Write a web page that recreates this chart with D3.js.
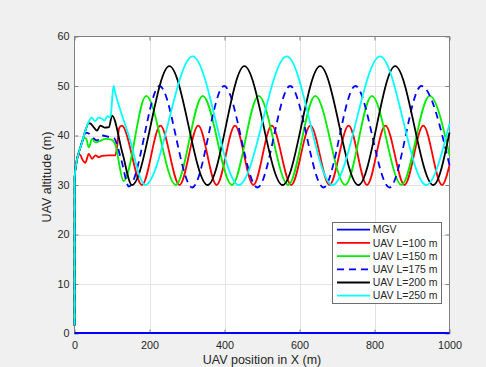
<!DOCTYPE html>
<html>
<head>
<meta charset="utf-8">
<script src="https://cdn.jsdelivr.net/npm/d3@7"></script>
<style>
  html, body { margin: 0; padding: 0; background: #f0f0f0; }
  svg { display: block; }
  text { font-family: "Liberation Sans", Arial, Helvetica, sans-serif; fill: #262626; }
</style>
</head>
<body>
<svg id="chart" width="486" height="367"></svg>
<script>
// Ground vehicle track and UAV altitude profiles for different leash lengths L.
const mgv = [[0, 0], [1000, 0]];

const uav100 = [[0,1.6],[0.5,31.5],[5,34.5],[11,36.3],[16,36],[22,35],[29,34.5],[38,36.3],[47,35.3],[56,36],[65,35.6],
  [73,35.9],[90,36],[109,36],[114,38],[119,41.5],[126,42],[180,30],[229,42],[280,30],[330,42],[379,30],[428,42],
  [477,30],[526,42],[578,30],[629,42],[680,30],[731,42],[780,30],[829,42],[880,30],[930,42],[980,30],[1000,34]];

const uav150 = [[0,1.6],[0.5,31.5],[5,34.5],[11,36.4],[18,38.3],[25,39.5],[31,39.4],[38,37.6],[47,39.3],[56,38.6],
  [65,38.8],[83,39.3],[100,39.1],[108,38.3],[131,30.8],[191,48],[270,30],[342,48],[420,30],[491,48],[570,30],
  [642,48],[722,30],[793,48],[872,30],[947,48],[1000,36]];

const uav175 = [[0,1.6],[0.5,31.5],[5,34.5],[11,36.4],[20,38.6],[30,40.6],[38,40.4],[47,39.7],[60,39],[74,40],
  [92,39.7],[105,39.5],[125,35],[145,29.7],[227,50],[314,29.5],[399,50],[488,29.5],[575,50],[664,29.5],[749,50],
  [840,29.5],[925,50],[1000,34]];

const uav200 = [[0,1.6],[0.5,31.5],[5,34.5],[11,36.4],[20,38.6],[30,41.2],[38,42.5],[43,42.4],[52,41.6],[60,41],
  [69,42],[80,41.6],[92,41.7],[100,44],[128,36.4],[153,30],[253,54],[355,30],[453,54],[555,30],[655,54],
  [757,30],[855,54],[957,30],[1000,40.6]];

const uav250 = [[0,1.6],[0.5,31.5],[5,34.5],[11,36.4],[20,38.6],[30,41.2],[38,42.8],[46,43.6],[55,42.9],[64,43.6],
  [73,43.4],[80,43],[88,43.9],[95,43.6],[97,44.2],[104,50],[108,48.8],[150,38.6],[175,31.5],[188,30],[315,56],
  [438,30],[566,56],[688,30],[815,56],[938,30],[1000,42.4]];

const seriesNames = ["MGV", "UAV L=100 m", "UAV L=150 m", "UAV L=175 m", "UAV L=200 m", "UAV L=250 m"];
const seriesColors = ["#0000ff", "#ff0000", "#00ee00", "#0000ff", "#000000", "#00ffff"];
const seriesDash = [null, null, null, "7,5", null, null];
const seriesData = [mgv, uav100, uav150, uav175, uav200, uav250];

const xTicks = [0, 200, 400, 600, 800, 1000];
const yTicks = [0, 10, 20, 30, 40, 50, 60];
const xLabel = "UAV position in X (m)";
const yLabel = "UAV altitude (m)";

const svg = d3.select("#chart");
const plot = { left: 74.5, right: 449.5, top: 36.5, bottom: 333.5 };

const x = d3.scaleLinear().domain([0, 1000]).range([plot.left, plot.right]);
const y = d3.scaleLinear().domain([0, 60]).range([plot.bottom, plot.top]);

// axes background
svg.append("rect")
  .attr("x", plot.left).attr("y", plot.top)
  .attr("width", plot.right - plot.left).attr("height", plot.bottom - plot.top)
  .attr("fill", "#ffffff");

// grid
const grid = svg.append("g").attr("stroke", "#e3e3e3").attr("stroke-width", 1);
xTicks.slice(1, -1).forEach(t => grid.append("line")
  .attr("x1", Math.round(x(t)) + 0.5).attr("x2", Math.round(x(t)) + 0.5)
  .attr("y1", plot.top).attr("y2", plot.bottom));
yTicks.slice(1, -1).forEach(t => grid.append("line")
  .attr("y1", Math.round(y(t)) + 0.5).attr("y2", Math.round(y(t)) + 0.5)
  .attr("x1", plot.left).attr("x2", plot.right));

// axes with inward ticks on all four sides
const axisColor = "#808080";
function styleAxis(g, showText) {
  g.select(".domain").remove();
  g.selectAll(".tick line").attr("stroke", axisColor);
  g.selectAll(".tick text")
    .style("font-size", "10.8px")
    .attr("fill", "#262626")
    .style("display", showText ? null : "none");
}
svg.append("g").attr("transform", `translate(0,${plot.bottom})`)
  .call(d3.axisBottom(x).tickValues(xTicks).tickSize(-4).tickPadding(8).tickFormat(d3.format("d")))
  .call(g => styleAxis(g, true));
svg.append("g").attr("transform", `translate(0,${plot.top})`)
  .call(d3.axisTop(x).tickValues(xTicks).tickSize(-4).tickFormat(""))
  .call(g => styleAxis(g, false));
svg.append("g").attr("transform", `translate(${plot.left},0)`)
  .call(d3.axisLeft(y).tickValues(yTicks).tickSize(-4).tickPadding(5).tickFormat(d3.format("d")))
  .call(g => styleAxis(g, true));
svg.append("g").attr("transform", `translate(${plot.right},0)`)
  .call(d3.axisRight(y).tickValues(yTicks).tickSize(-4).tickFormat(""))
  .call(g => styleAxis(g, false));

svg.append("rect")
  .attr("x", plot.left).attr("y", plot.top)
  .attr("width", plot.right - plot.left).attr("height", plot.bottom - plot.top)
  .attr("fill", "none").attr("stroke", axisColor).attr("stroke-width", 1);

// data lines
svg.append("clipPath").attr("id", "clip")
  .append("rect")
  .attr("x", plot.left - 2).attr("y", plot.top - 2)
  .attr("width", plot.right - plot.left + 4).attr("height", plot.bottom - plot.top + 4);

const line = d3.line()
  .x(d => x(d[0]))
  .y(d => y(d[1]))
  .curve(d3.curveMonotoneX);

const lines = svg.append("g").attr("clip-path", "url(#clip)");
seriesData.forEach((data, i) => {
  lines.append("path")
    .datum(data)
    .attr("d", d => i === 0 ? d3.line().x(p => x(p[0])).y(p => y(p[1]) - 0.5)(d) : line(d))
    .attr("fill", "none")
    .attr("stroke", seriesColors[i])
    .attr("stroke-width", 1.8)
    .attr("stroke-linejoin", "round")
    .attr("stroke-dasharray", seriesDash[i]);
});

// axis labels
svg.append("text")
  .attr("x", (plot.left + plot.right) / 2).attr("y", 363.5)
  .attr("text-anchor", "middle").style("font-size", "12.5px")
  .text(xLabel);
svg.append("text")
  .attr("transform", `translate(51,177) rotate(-90)`)
  .attr("text-anchor", "middle").style("font-size", "12.5px")
  .text(yLabel);

// legend
const legend = { left: 332.5, top: 222.5, width: 109, rowH: 13.2, firstRow: 229.7 };
const lg = svg.append("g");
lg.append("rect")
  .attr("x", legend.left).attr("y", legend.top)
  .attr("width", legend.width).attr("height", 303.5 - legend.top)
  .attr("fill", "#ffffff").attr("stroke", "#6e6e6e").attr("stroke-width", 1);
seriesNames.forEach((name, i) => {
  const yy = legend.firstRow + i * legend.rowH;
  lg.append("line")
    .attr("x1", 337).attr("x2", 370).attr("y1", yy).attr("y2", yy)
    .attr("stroke", seriesColors[i]).attr("stroke-width", 1.8)
    .attr("stroke-dasharray", seriesDash[i]);
  lg.append("text")
    .attr("x", 372.7).attr("y", yy).attr("dy", "0.36em")
    .style("font-size", "10.5px")
    .text(name);
});
</script>
</body>
</html>
